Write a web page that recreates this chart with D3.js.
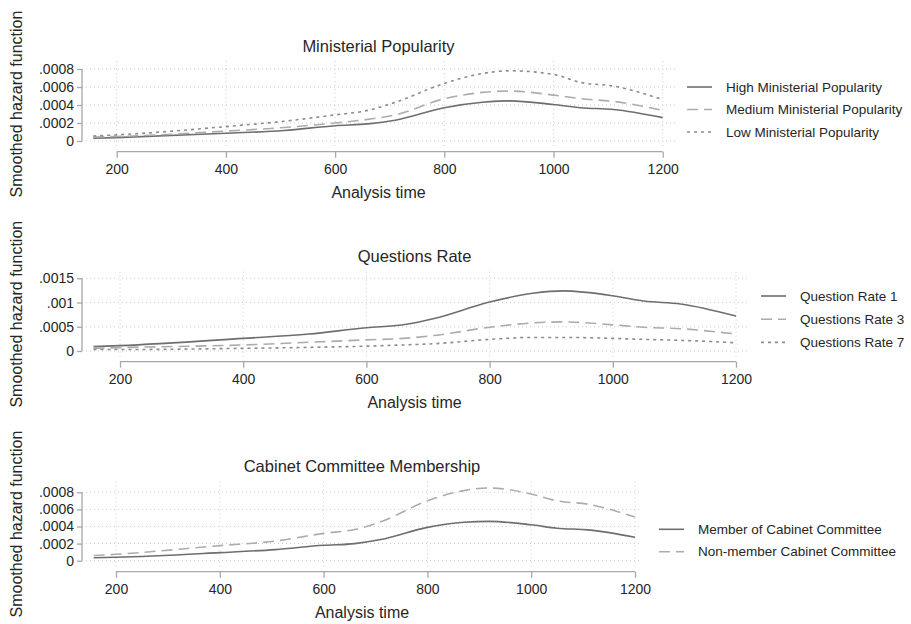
<!DOCTYPE html>
<html>
<head>
<meta charset="utf-8">
<script src="https://cdn.jsdelivr.net/npm/d3@7/dist/d3.min.js"></script>
<style>
  body { margin: 0; background: #fff; }
  text { font-family: "Liberation Sans", Arial, sans-serif; fill: #262626; }
</style>
</head>
<body>
<svg id="chart" width="911" height="624"></svg>
<script>
// analysis time points shared by every curve
var times = [157, 200, 400, 507, 600, 660, 710, 800, 870, 920, 1000, 1050, 1110, 1200];

// Ministerial Popularity
var popHigh = [0.000030, 0.000038, 0.000086, 0.000116, 0.000170, 0.000190, 0.000230, 0.000370, 0.000430, 0.000446, 0.000405, 0.000370, 0.000350, 0.000260];
var popMed  = [0.000045, 0.000050, 0.000110, 0.000150, 0.000200, 0.000240, 0.000290, 0.000470, 0.000540, 0.000555, 0.000510, 0.000470, 0.000440, 0.000340];
var popLow  = [0.000056, 0.000068, 0.000160, 0.000220, 0.000290, 0.000340, 0.000430, 0.000640, 0.000750, 0.000780, 0.000740, 0.000650, 0.000610, 0.000460];

// Questions Rate
var qRate1 = [0.000090, 0.000110, 0.000260, 0.000350, 0.000480, 0.000540, 0.000670, 0.001010, 0.001190, 0.001240, 0.001140, 0.001030, 0.000970, 0.000720];
var qRate3 = [0.000055, 0.000070, 0.000125, 0.000180, 0.000230, 0.000260, 0.000320, 0.000490, 0.000580, 0.000600, 0.000540, 0.000490, 0.000460, 0.000350];
var qRate7 = [0.000030, 0.000030, 0.000055, 0.000075, 0.000100, 0.000125, 0.000150, 0.000240, 0.000280, 0.000280, 0.000260, 0.000240, 0.000220, 0.000170];

// Cabinet Committee Membership
var member    = [0.000035, 0.000040, 0.000094, 0.000130, 0.000180, 0.000200, 0.000247, 0.000390, 0.000450, 0.000460, 0.000420, 0.000380, 0.000360, 0.000275];
var nonMember = [0.000060, 0.000075, 0.000176, 0.000230, 0.000320, 0.000365, 0.000455, 0.000700, 0.000820, 0.000850, 0.000780, 0.000700, 0.000660, 0.000510];

// ticks
var xTicks = [200, 400, 600, 800, 1000, 1200];
var yTicksSmall = [0, 0.0002, 0.0004, 0.0006, 0.0008];
var yLabelsSmall = ["0", ".0002", ".0004", ".0006", ".0008"];
var yTicksQ = [0, 0.0005, 0.001, 0.0015];
var yLabelsQ = ["0", ".0005", ".001", ".0015"];

var titles = ["Ministerial Popularity", "Questions Rate", "Cabinet Committee Membership"];
var popLabels = ["High Ministerial Popularity", "Medium Ministerial Popularity", "Low Ministerial Popularity"];
var qLabels = ["Question Rate 1", "Questions Rate 3", "Questions Rate 7"];
var cabLabels = ["Member of Cabinet Committee", "Non-member Cabinet Committee"];

var styles = [
  { color: "#6e6e6e", dash: null },
  { color: "#acacac", dash: "11,6" },
  { color: "#8c8c8c", dash: "3,4" }
];

var panels = [
  { title: titles[0], series: [popHigh, popMed, popLow], labels: popLabels,
    yTicks: yTicksSmall, yLabels: yLabelsSmall,
    left: 82, right: 675, x200: 116.7, x1200: 662.7, gTop: 61, gBot: 147,
    y0: 141, yMaxPx: 69, xAxisY: 151.7, titleY: 46, legX: 687, legY: 87, legStep: 22.5 },
  { title: titles[1], series: [qRate1, qRate3, qRate7], labels: qLabels,
    yTicks: yTicksQ, yLabels: yLabelsQ,
    left: 82, right: 747, x200: 120, x1200: 736, gTop: 271.7, gBot: 356.7,
    y0: 351, yMaxPx: 278.3, xAxisY: 361.7, titleY: 256, legX: 761, legY: 296, legStep: 23.2 },
  { title: titles[2], series: [member, nonMember], labels: cabLabels,
    yTicks: yTicksSmall, yLabels: yLabelsSmall,
    left: 82, right: 642, x200: 116, x1200: 635, gTop: 481.7, gBot: 566.5,
    y0: 560.7, yMaxPx: 492.3, xAxisY: 571.7, titleY: 466, legX: 659, legY: 529.3, legStep: 22.4 }
];

var svg = d3.select("#chart");

panels.forEach(function (p) {
  var x = d3.scaleLinear().domain([200, 1200]).range([p.x200, p.x1200]);
  var yMax = p.yTicks[p.yTicks.length - 1];
  var y = d3.scaleLinear().domain([0, yMax]).range([p.y0, p.yMaxPx]);
  var g = svg.append("g");

  // grid
  g.selectAll(".vgrid").data(xTicks).enter().append("line")
    .attr("x1", function (d) { return x(d); }).attr("x2", function (d) { return x(d); })
    .attr("y1", p.gTop).attr("y2", p.gBot)
    .attr("stroke", "#cdcdcd").attr("stroke-width", 1).attr("stroke-dasharray", "1,3");
  g.selectAll(".hgrid").data(p.yTicks).enter().append("line")
    .attr("x1", p.left).attr("x2", p.right)
    .attr("y1", function (d) { return y(d); }).attr("y2", function (d) { return y(d); })
    .attr("stroke", "#cdcdcd").attr("stroke-width", 1).attr("stroke-dasharray", "1,3");

  // y axis
  var yAxis = d3.axisLeft(y).tickValues(p.yTicks).tickSize(5).tickPadding(3)
    .tickFormat(function (d, i) { return p.yLabels[i]; });
  var ya = g.append("g").attr("transform", "translate(" + p.left + ",0)").call(yAxis);
  ya.select(".domain").attr("stroke", "#a8a8a8").attr("stroke-width", 1.3).attr("d", "M0," + y(0) + "V" + y(yMax));
  ya.selectAll(".tick line").attr("stroke", "#a8a8a8").attr("stroke-width", 1.3);
  ya.selectAll(".tick text").style("font-size", "14px").attr("fill", "#262626")
    .style("font-family", '"Liberation Sans", Arial, sans-serif');

  // x axis
  var xAxis = d3.axisBottom(x).tickValues(xTicks).tickSize(6).tickPadding(6).tickFormat(d3.format("d"));
  var xa = g.append("g").attr("transform", "translate(0," + p.xAxisY + ")").call(xAxis);
  xa.select(".domain").attr("stroke", "#a8a8a8").attr("stroke-width", 1.3).attr("d", "M" + x(200) + ",0H" + x(1200));
  xa.selectAll(".tick line").attr("stroke", "#a8a8a8").attr("stroke-width", 1.3);
  xa.selectAll(".tick text").style("font-size", "14px").attr("fill", "#262626")
    .style("font-family", '"Liberation Sans", Arial, sans-serif');

  // axis titles
  var midX = (p.left + p.right) / 2;
  g.append("text").attr("x", midX).attr("y", p.xAxisY + 46)
    .attr("text-anchor", "middle").style("font-size", "16px").text("Analysis time");
  g.append("text").attr("transform", "translate(22," + ((p.gTop + p.gBot) / 2) + ") rotate(-90)")
    .attr("text-anchor", "middle").style("font-size", "16px").text("Smoothed hazard function");
  g.append("text").attr("x", midX).attr("y", p.titleY).attr("dy", "0.35em")
    .attr("text-anchor", "middle").style("font-size", "16.5px").text(p.title);

  // curves
  var line = d3.line()
    .x(function (d) { return x(d[0]); })
    .y(function (d) { return y(d[1]); })
    .curve(d3.curveMonotoneX);
  p.series.forEach(function (vals, i) {
    g.append("path")
      .datum(times.map(function (t, j) { return [t, vals[j]]; }))
      .attr("d", line)
      .attr("fill", "none")
      .attr("stroke", styles[i].color)
      .attr("stroke-width", 1.6)
      .attr("stroke-dasharray", styles[i].dash);
  });

  // legend
  p.labels.forEach(function (lab, i) {
    var ly = p.legY + i * p.legStep;
    g.append("line").attr("x1", p.legX).attr("x2", p.legX + 25).attr("y1", ly).attr("y2", ly)
      .attr("stroke", styles[i].color).attr("stroke-width", 1.6)
      .attr("stroke-dasharray", styles[i].dash);
    g.append("text").attr("x", p.legX + 39).attr("y", ly).attr("dy", "0.35em")
      .style("font-size", "13.5px").text(lab);
  });
});
</script>
</body>
</html>
